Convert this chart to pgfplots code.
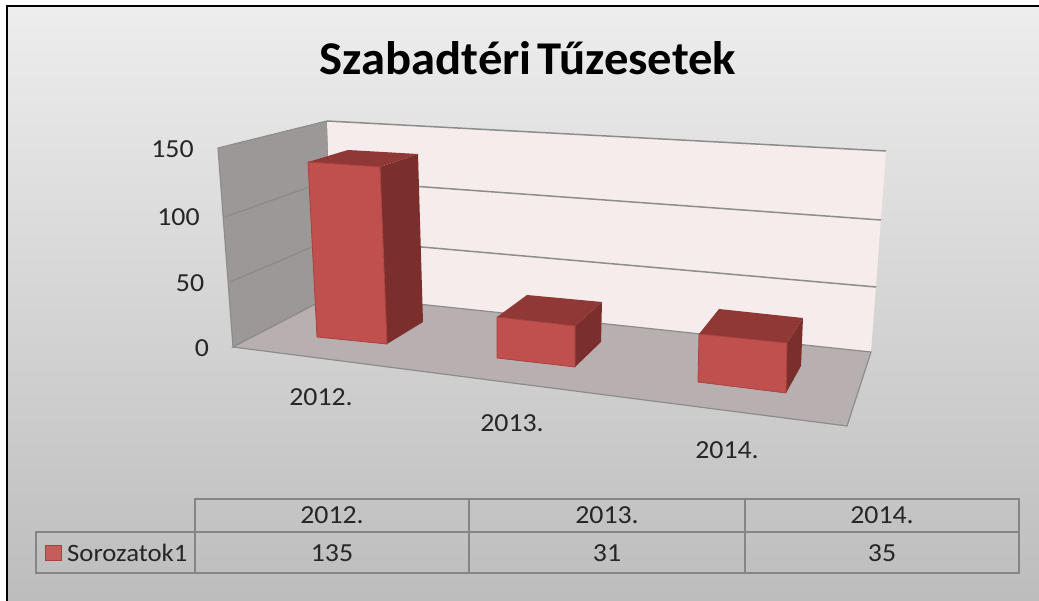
\documentclass[border=0pt]{standalone}
\usepackage{pgfplots}
\pgfplotsset{compat=1.18}
\usepackage{fontspec}
\setmainfont[FakeStretch=1.07]{Carlito}
\newfontfamily\titlefont[FakeStretch=1.035]{Carlito}
\definecolor{frontc}{HTML}{C0504D}
\definecolor{topc}{HTML}{8F3835}
\definecolor{sidec}{HTML}{7B2F2D}
\definecolor{edgec}{HTML}{A8423F}
\definecolor{wallc}{HTML}{9C9898}
\definecolor{floorc}{HTML}{B8B0B0}
\definecolor{backc}{HTML}{F6ECEC}
\definecolor{gridc}{HTML}{8C8C8C}
\definecolor{tabc}{HTML}{858585}
\definecolor{txt}{HTML}{262626}
\tikzset{lbl/.style={font=\fontsize{26}{26}\selectfont, text=txt, inner sep=0pt, anchor=center}}
\begin{document}
\begin{tikzpicture}
\begin{axis}[
  width=1039pt, height=601pt, scale only axis,
  xmin=0, xmax=1039, ymin=0, ymax=601, y dir=reverse,
  axis lines=none, clip=true,
  every axis plot/.append style={forget plot},
]
% page and chart background
\addplot[draw=none, fill=white] coordinates {(0,0)(1039,0)(1039,601)(0,601)} --cycle;
\addplot[draw=none, top color=black!7, bottom color=black!26] coordinates {(7,6)(1039,6)(1039,601)(7,601)} --cycle;
\addplot[black, line width=2.6pt] coordinates {(7,601)(7,6)(1039,6)};
% walls and floor
\addplot[fill=wallc, draw=gridc, line width=1.2pt] coordinates {(218,148)(327,121)(333,295)(233,347)} --cycle;
\addplot[fill=backc, draw=none] coordinates {(327,121)(886,151)(871,352)(333,295)} --cycle;
\addplot[gridc, line width=1.5pt] coordinates {(327,121)(886,151)};
\addplot[fill=floorc, draw=gridc, line width=1.2pt] coordinates {(233,347)(333,295)(871,352)(847,426)} --cycle;
% gridlines: 100 and 50
\addplot[gridc, line width=1.5pt] coordinates {(225,217)(329,180)(881,220)};
\addplot[gridc, line width=1.5pt] coordinates {(230,282)(331,239)(876,287)};
% bar 2012: 135
\addplot[fill=sidec, draw=none] coordinates {(380,167)(418,154)(423,322)(387,344)} --cycle;
\addplot[fill=topc, draw=none] coordinates {(308,162)(348,150)(418,154)(380,167)} --cycle;
\addplot[fill=frontc, draw=edgec, line width=0.8pt] coordinates {(308,162)(380,167)(387,344)(317,337)} --cycle;
% bar 2013: 31
\addplot[fill=sidec, draw=none] coordinates {(575,326)(602,302)(601,342)(575,367)} --cycle;
\addplot[fill=topc, draw=none] coordinates {(497,317)(527,295)(602,302)(575,326)} --cycle;
\addplot[fill=frontc, draw=edgec, line width=0.8pt] coordinates {(497,317)(575,326)(575,367)(497,358)} --cycle;
% bar 2014: 35
\addplot[fill=sidec, draw=none] coordinates {(787,343)(803,318)(801,366)(786,393)} --cycle;
\addplot[fill=topc, draw=none] coordinates {(699,334)(719,309)(803,318)(787,343)} --cycle;
\addplot[fill=frontc, draw=edgec, line width=0.8pt] coordinates {(699,334)(787,343)(786,393)(698,382)} --cycle;
% data table grid
\addplot[tabc, line width=2pt] coordinates {(195,532)(195,499)(1019,499)(1019,573)(36,573)(36,532)(1019,532)};
\addplot[tabc, line width=2pt] coordinates {(195,532)(195,573)};
\addplot[tabc, line width=2pt] coordinates {(469,499)(469,573)};
\addplot[tabc, line width=2pt] coordinates {(745,499)(745,573)};
\addplot[fill=frontc!92!white, draw=edgec, line width=1.6pt] coordinates {(45.5,545.5)(61.5,545.5)(61.5,560.5)(45.5,560.5)} --cycle;
% texts
\node[anchor=center, inner sep=0pt, text=black] at (axis cs:528,58) {\titlefont\bfseries\fontsize{47}{47}\selectfont Szabadtéri\hspace{-5pt} Tűzesetek};
\node[lbl] at (axis cs:172.5,149) {150};
\node[lbl] at (axis cs:178.5,217) {100};
\node[lbl] at (axis cs:190,283) {50};
\node[lbl] at (axis cs:202,348) {0};
\node[lbl] at (axis cs:321,397) {2012.};
\node[lbl] at (axis cs:512,423) {2013.};
\node[lbl] at (axis cs:727,450) {2014.};
\node[lbl] at (axis cs:332,515) {2012.};
\node[lbl] at (axis cs:607,515) {2013.};
\node[lbl] at (axis cs:882,515) {2014.};
\node[lbl] at (axis cs:332,553) {135};
\node[lbl] at (axis cs:607,553) {31};
\node[lbl] at (axis cs:882,553) {35};
\node[lbl, anchor=west, font=\fontsize{25}{25}\selectfont] at (axis cs:67,553) {Sorozatok1};
\end{axis}
\end{tikzpicture}
\end{document}
